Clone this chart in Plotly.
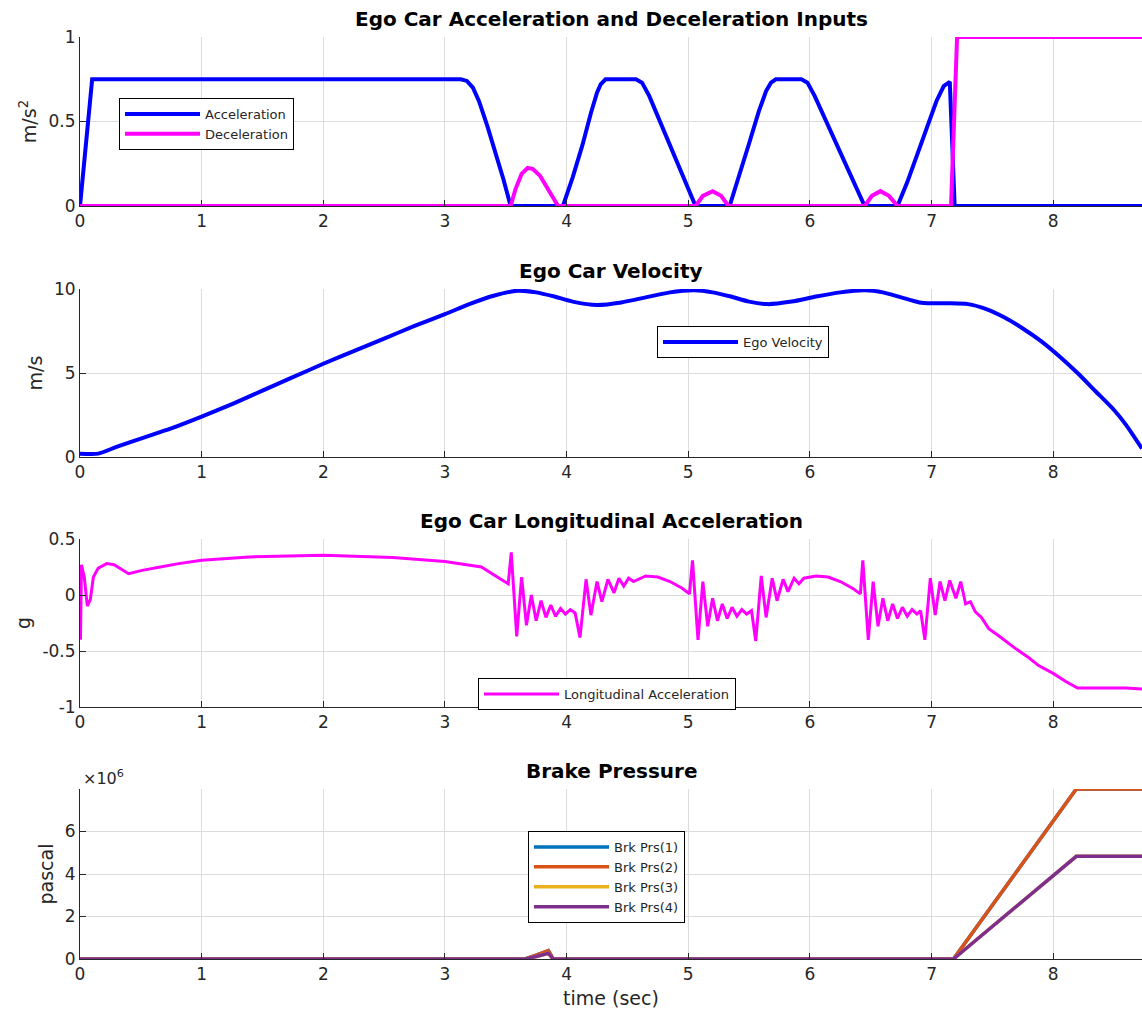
import plotly.graph_objects as go

# ---------------- data ----------------
# Panel 1: acceleration / deceleration inputs (m/s^2)
t_acc = [0, 0.10, 3.13, 3.18, 3.23, 3.28, 3.35, 3.42, 3.48, 3.54,
         3.97, 4.05, 4.13, 4.20, 4.25, 4.28, 4.32, 4.57, 4.62, 4.68, 4.75, 4.85, 4.95, 5.06,
         5.34, 5.42, 5.50, 5.58, 5.64, 5.68, 5.72, 5.93, 5.98, 6.04, 6.12, 6.22, 6.33, 6.45,
         6.72, 6.80, 6.88, 6.96, 7.04, 7.10, 7.15, 7.19, 8.73]
v_acc = [0, 0.75, 0.75, 0.74, 0.70, 0.62, 0.47, 0.31, 0.16, 0,
         0, 0.17, 0.36, 0.55, 0.67, 0.72, 0.75, 0.75, 0.73, 0.65, 0.53, 0.37, 0.20, 0,
         0, 0.18, 0.37, 0.56, 0.68, 0.73, 0.75, 0.75, 0.73, 0.65, 0.52, 0.36, 0.19, 0,
         0, 0.14, 0.30, 0.47, 0.62, 0.71, 0.735, 0, 0]

t_dec = [0, 3.54, 3.58, 3.63, 3.68, 3.72, 3.78, 3.85, 3.93,
         5.06, 5.12, 5.20, 5.27, 5.33,
         6.45, 6.51, 6.58, 6.65, 6.72, 7.16, 7.21, 8.73]
v_dec = [0, 0, 0.10, 0.19, 0.225, 0.22, 0.18, 0.10, 0,
         0, 0.06, 0.088, 0.06, 0,
         0, 0.06, 0.088, 0.06, 0, 0, 1.0, 1.0]

# Panel 2: ego velocity (m/s)
t_vel = [0, 0.15, 0.30, 0.50, 0.75, 1.00, 1.25, 1.50, 1.75, 2.00, 2.25, 2.50, 2.75,
         3.00, 3.20, 3.40, 3.60, 3.75, 3.90, 4.05, 4.25, 4.45, 4.65, 4.85, 5.05,
         5.20, 5.35, 5.50, 5.65, 5.85, 6.05, 6.25, 6.45, 6.60, 6.75, 6.90, 7.00,
         7.15, 7.30, 7.45, 7.60, 7.75, 7.90, 8.05, 8.20, 8.35, 8.50, 8.60, 8.73]
v_vel = [0.2, 0.2, 0.6, 1.1, 1.7, 2.4, 3.15, 3.95, 4.75, 5.55, 6.3, 7.05, 7.8,
         8.5, 9.1, 9.6, 9.9, 9.8, 9.55, 9.25, 9.05, 9.2, 9.5, 9.8, 9.92,
         9.8, 9.55, 9.25, 9.1, 9.25, 9.55, 9.8, 9.92, 9.8, 9.5, 9.2, 9.15,
         9.15, 9.1, 8.8, 8.3, 7.65, 6.9, 6.0, 5.0, 3.9, 2.8, 1.9, 0.5]

# Panel 3: longitudinal acceleration (g)
t_lon = [0.000, 0.004, 0.012, 0.035, 0.060, 0.085, 0.110, 0.150, 0.220, 0.280, 0.400,
         0.510, 0.660, 0.810, 1.000, 1.390, 2.000, 2.570, 3.000, 3.300, 3.430, 3.520,
         # burst 1
         3.545, 3.590, 3.630, 3.670, 3.710, 3.750, 3.790, 3.830, 3.870, 3.910, 3.950,
         3.990, 4.030, 4.070, 4.110, 4.160, 4.200, 4.250, 4.290, 4.340, 4.390, 4.430,
         4.470, 4.510, 4.550, 4.650, 4.750, 4.850, 4.950, 5.010,
         # burst 2
         5.035, 5.080, 5.120, 5.160, 5.200, 5.240, 5.280, 5.320, 5.360, 5.400, 5.440,
         5.480, 5.520, 5.555, 5.600, 5.640, 5.690, 5.730, 5.780, 5.820, 5.870, 5.910,
         5.950, 6.050, 6.150, 6.250, 6.350, 6.415,
         # burst 3
         6.435, 6.480, 6.520, 6.560, 6.600, 6.640, 6.680, 6.720, 6.760, 6.800, 6.840,
         6.880, 6.910, 6.945, 6.990, 7.030, 7.070, 7.110, 7.150, 7.200, 7.240, 7.280,
         7.320, 7.360, 7.410, 7.470, 7.560, 7.680, 7.800, 7.880, 8.000, 8.100, 8.200,
         8.400, 8.600, 8.730]
g_lon = [0.25, -0.40, 0.27, 0.16, -0.10, -0.04, 0.16, 0.24, 0.28, 0.27, 0.19,
         0.22, 0.25, 0.28, 0.31, 0.34, 0.355, 0.335, 0.30, 0.25, 0.16, 0.10,
         0.38, -0.37, 0.16, -0.27, 0.00, -0.23, -0.05, -0.20, -0.09, -0.19, -0.12,
         -0.17, -0.13, -0.16, -0.38, 0.14, -0.18, 0.12, -0.06, 0.14, 0.02, 0.15,
         0.08, 0.15, 0.12, 0.17, 0.16, 0.12, 0.06, 0.01,
         0.31, -0.40, 0.12, -0.28, -0.03, -0.23, -0.08, -0.21, -0.11, -0.19, -0.13,
         -0.17, -0.14, -0.41, 0.17, -0.20, 0.15, -0.05, 0.14, 0.03, 0.15, 0.10,
         0.15, 0.17, 0.16, 0.12, 0.06, 0.01,
         0.31, -0.40, 0.12, -0.28, -0.03, -0.23, -0.08, -0.21, -0.11, -0.19, -0.13,
         -0.17, -0.14, -0.40, 0.15, -0.18, 0.12, -0.05, 0.13, -0.03, 0.12, -0.08,
         -0.06, -0.15, -0.20, -0.30, -0.37, -0.47, -0.56, -0.63, -0.70, -0.77, -0.83,
         -0.83, -0.83, -0.84]

# Panel 4: brake pressure (pascal)
t_brk = [0, 3.66, 3.75, 3.85, 3.89, 7.18, 8.19, 8.73]
brk_front = [0, 0, 0.18e6, 0.39e6, 0, 0, 8.0e6, 8.0e6]
brk_rear = [0, 0, 0.12e6, 0.27e6, 0, 0, 4.83e6, 4.83e6]
brk_names = ["Brk Prs(1)", "Brk Prs(2)", "Brk Prs(3)", "Brk Prs(4)"]
brk_series = [brk_front, brk_front, brk_rear, brk_rear]
brk_colors = ["#0072BD", "#D95319", "#EDB120", "#7E2F8E"]

# ticks
x_ticks = [0, 1, 2, 3, 4, 5, 6, 7, 8]
y1_ticks, y1_text = [0, 0.5, 1], ["0", "0.5", "1"]
y2_ticks, y2_text = [0, 5, 10], ["0", "5", "10"]
y3_ticks, y3_text = [-1, -0.5, 0, 0.5], ["-1", "-0.5", "0", "0.5"]
y4_ticks, y4_text = [0, 2e6, 4e6, 6e6], ["0", "2", "4", "6"]

titles = ["Ego Car Acceleration and Deceleration Inputs", "Ego Car Velocity",
          "Ego Car Longitudinal Acceleration", "Brake Pressure"]

# ---------------- figure ----------------
W, H = 1142, 1024
ML = 80
FONT = "DejaVu Sans"
AX = "#262626"
GRID = "#dcdcdc"

# pixel boxes (top, bottom) of each panel in screen coords
boxes = [(37, 206), (289, 457), (539, 707), (789, 959)]
title_y = [19, 271, 521, 771]

def py(v):
    return 1 - v / H

def px(v):
    return (v - ML) / (W - ML)

fig = go.Figure()

fig.add_trace(go.Scatter(x=t_acc, y=v_acc, mode="lines", name="Acceleration",
                         line=dict(color="#0000FF", width=4), xaxis="x", yaxis="y", legend="legend"))
fig.add_trace(go.Scatter(x=t_dec, y=v_dec, mode="lines", name="Deceleration",
                         line=dict(color="#FF00FF", width=4), xaxis="x", yaxis="y", legend="legend"))
fig.add_trace(go.Scatter(x=t_vel, y=v_vel, mode="lines", name="Ego Velocity",
                         line=dict(color="#0000FF", width=4, shape="spline", smoothing=0.6),
                         xaxis="x2", yaxis="y2", legend="legend2"))
fig.add_trace(go.Scatter(x=t_lon, y=g_lon, mode="lines", name="Longitudinal Acceleration",
                         line=dict(color="#FF00FF", width=3), xaxis="x3", yaxis="y3", legend="legend3"))
for nm, ser, col in zip(brk_names, brk_series, brk_colors):
    fig.add_trace(go.Scatter(x=t_brk, y=ser, mode="lines", name=nm,
                             line=dict(color=col, width=3.5), xaxis="x4", yaxis="y4", legend="legend4"))

yranges = [[0, 1], [0, 10], [-1, 0.5], [0, 8e6]]
yticks = [(y1_ticks, y1_text), (y2_ticks, y2_text), (y3_ticks, y3_text), (y4_ticks, y4_text)]
ylabels = ["m/s<sup>2</sup>", "m/s", "g", "pascal"]

layout = dict(
    template="none",
    width=W, height=H,
    margin=dict(l=ML, r=0, t=0, b=0, pad=0),
    paper_bgcolor="white", plot_bgcolor="white",
    font=dict(family=FONT, color=AX, size=17),
    annotations=[],
)
for i in range(4):
    sx = "" if i == 0 else str(i + 1)
    xa = dict(
        domain=[0, 1], range=[0, 8.73], anchor="y" + sx, automargin=False,
        tickvals=x_ticks, ticktext=[str(v) for v in x_ticks],
        ticks="inside", ticklen=6, tickcolor=AX, tickwidth=1,
        showline=True, linecolor=AX, linewidth=1,
        showgrid=True, gridcolor=GRID, gridwidth=1, zeroline=False,
        tickfont=dict(family=FONT, size=17, color=AX),
    )
    if i == 3:
        xa["title"] = dict(text="time (sec)", font=dict(family=FONT, size=19, color=AX), standoff=8)
    tv, tt = yticks[i]
    top, bot = boxes[i]
    ya = dict(
        domain=[py(bot), py(top)], range=yranges[i], anchor="x" + sx, automargin=False,
        tickvals=tv, ticktext=tt,
        ticks="inside", ticklen=6, tickcolor=AX, tickwidth=1,
        showline=True, linecolor=AX, linewidth=1,
        showgrid=True, gridcolor=GRID, gridwidth=1, zeroline=False,
        tickfont=dict(family=FONT, size=17, color=AX),
        title=dict(text=ylabels[i], font=dict(family=FONT, size=19, color=AX), standoff=6),
    )
    layout["xaxis" + sx] = xa
    layout["yaxis" + sx] = ya
    layout["annotations"].append(dict(
        text="<b>%s</b>" % titles[i], xref="paper", yref="paper",
        x=0.5, y=py(title_y[i]), xanchor="center", yanchor="middle",
        showarrow=False, font=dict(family=FONT, size=20, color="#000000")))

layout["annotations"].append(dict(
    text="\u00d710<sup>6</sup>", xref="paper", yref="paper",
    x=px(81), y=py(777), xanchor="left", yanchor="middle",
    showarrow=False, font=dict(family=FONT, size=16, color=AX)))

def leg(lx, ly):
    return dict(x=px(lx), y=py(ly), xanchor="left", yanchor="top",
                bgcolor="white", bordercolor="#000000", borderwidth=1,
                font=dict(family=FONT, size=13, color=AX), itemwidth=75,
                tracegroupgap=0)

layout["legend"] = leg(119, 98)
layout["legend2"] = leg(657, 326)
layout["legend3"] = leg(478, 678)
layout["legend4"] = leg(528, 831)
layout["showlegend"] = True

fig.update_layout(**layout)
fig.write_html("out.html",
               config={"displayModeBar": False},
               post_script="document.body.style.margin='0';document.body.style.overflow='hidden';")
